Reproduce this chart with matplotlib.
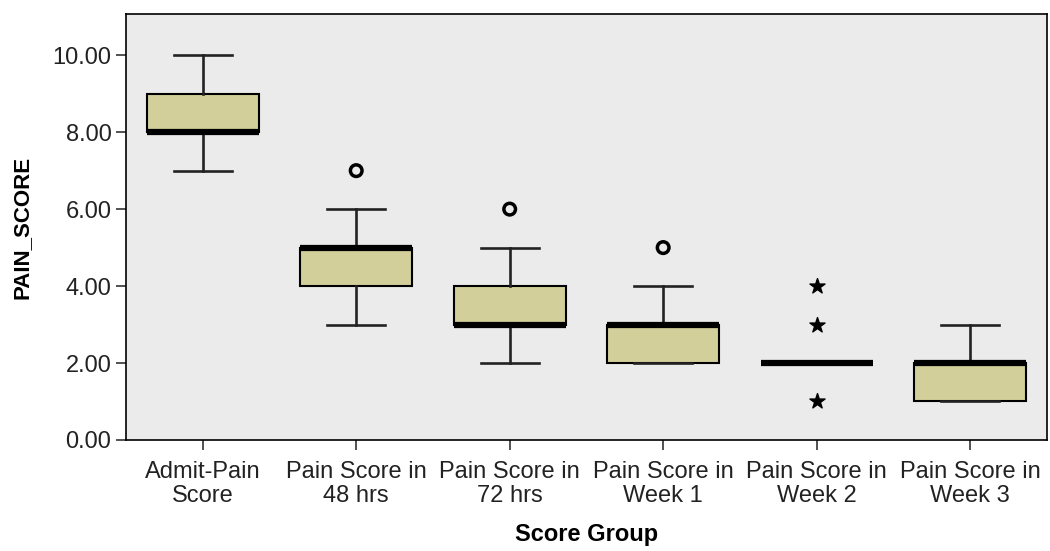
import matplotlib
matplotlib.use("Agg")
import matplotlib.pyplot as plt

plt.rcParams["font.family"] = ["Liberation Sans", "DejaVu Sans"]

# score groups and their five-number summaries
groups = ["Admit-Pain\nScore", "Pain Score in\n48 hrs", "Pain Score in\n72 hrs",
          "Pain Score in\nWeek 1", "Pain Score in\nWeek 2", "Pain Score in\nWeek 3"]
whislo = [7, 3, 2, 2, 2, 1]
q1 = [8, 4, 3, 2, 2, 1]
med = [8, 5, 3, 3, 2, 2]
q3 = [9, 5, 4, 3, 2, 2]
whishi = [10, 6, 5, 4, 2, 3]

# outliers (circles) and extreme values (stars)
out_grp = [1, 2, 3]
out_val = [7, 6, 5]
ext_grp = [4, 4, 4]
ext_val = [1, 3, 4]

stats = []
for i in range(len(groups)):
    stats.append({"whislo": whislo[i], "q1": q1[i], "med": med[i],
                  "q3": q3[i], "whishi": whishi[i], "fliers": []})

fig = plt.figure(figsize=(10.5, 5.51), dpi=100)
ax = fig.add_axes([0.12, 0.2015, 0.877, 0.773])
ax.set_facecolor("#ebebeb")

ax.bxp(stats, positions=range(len(groups)), widths=0.73, capwidths=0.38,
       patch_artist=True, showfliers=False,
       boxprops=dict(facecolor="#d3cf9a", edgecolor="black", linewidth=1.5),
       medianprops=dict(color="black", linewidth=4.5, solid_capstyle="butt"),
       whiskerprops=dict(color="#222222", linewidth=1.9),
       capprops=dict(color="#222222", linewidth=1.9))

ax.scatter(out_grp, out_val, s=70, facecolors="none", edgecolors="black",
           linewidths=2.5, zorder=5)
ax.scatter(ext_grp, ext_val, s=130, marker="*", color="black", zorder=5)

ax.set_xlim(-0.5, 5.5)
ax.set_ylim(0, 11.07)
ax.set_yticks([0, 2, 4, 6, 8, 10])
ax.set_yticklabels(["%.2f" % v for v in [0, 2, 4, 6, 8, 10]])
ax.set_xticks(range(len(groups)))
ax.set_xticklabels(groups, linespacing=1.1)
ax.tick_params(axis="both", labelsize=17, length=7, width=1.2, color="#333333",
               labelcolor="#222222")
ax.tick_params(axis="x", pad=8)
for s in ax.spines.values():
    s.set_linewidth(1.2)

ax.set_xlabel("Score Group", fontsize=17, fontweight="bold", labelpad=12)
ax.set_ylabel("PAIN_SCORE", fontsize=16, fontweight="bold", labelpad=14)

fig.savefig("out.png", dpi=100, facecolor="white")
